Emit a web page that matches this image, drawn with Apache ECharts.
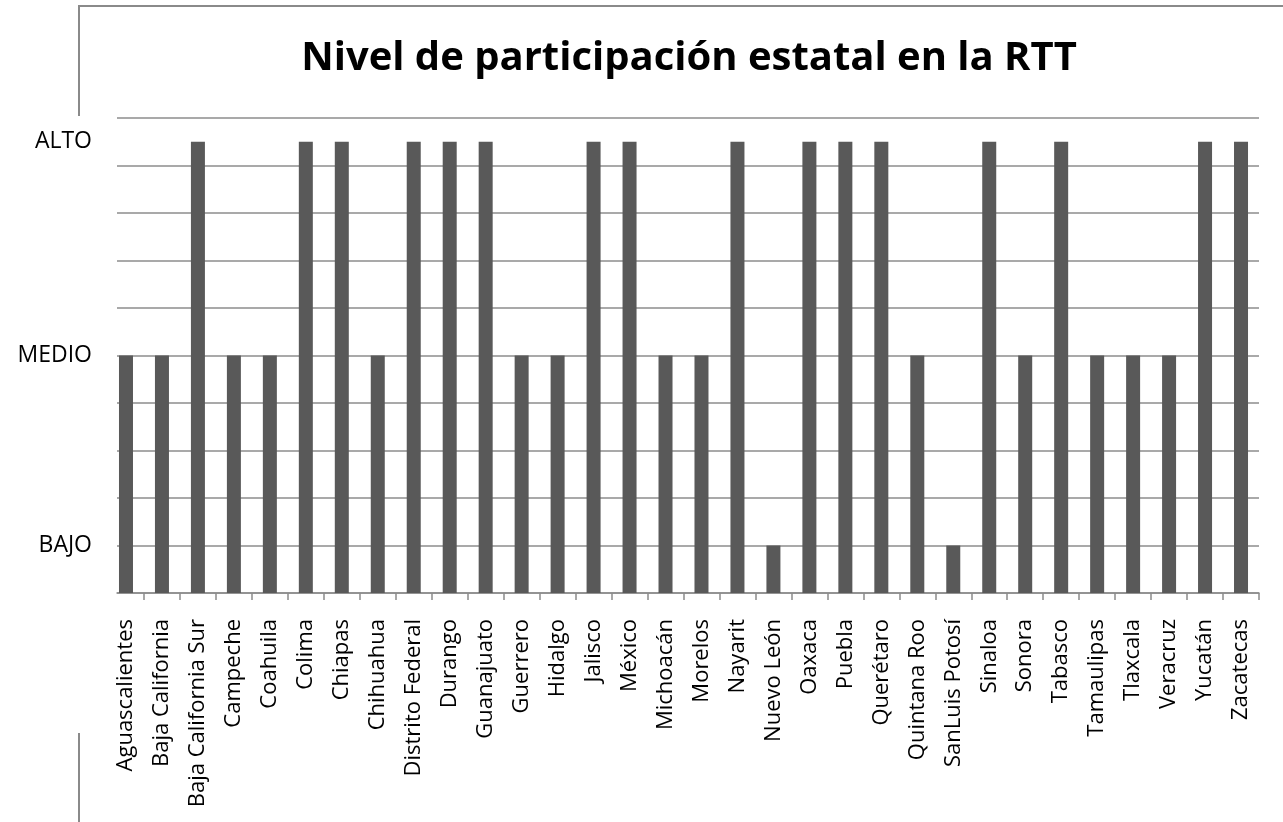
<!DOCTYPE html>
<html>
<head>
<meta charset="utf-8">
<script src="https://cdn.jsdelivr.net/npm/echarts@6/dist/echarts.min.js"></script>
<style>
html,body{margin:0;padding:0;background:#fff;}
#chart{width:1283px;height:822px;}
</style>
</head>
<body>
<div id="chart"></div>
<script>
const titleText = 'Nivel de participación estatal en la RTT';
const states = ['Aguascalientes','Baja California','Baja California Sur','Campeche','Coahuila','Colima','Chiapas','Chihuahua','Distrito Federal','Durango','Guanajuato','Guerrero','Hidalgo','Jalisco','México','Michoacán','Morelos','Nayarit','Nuevo León','Oaxaca','Puebla','Querétaro','Quintana Roo','SanLuis Potosí','Sinaloa','Sonora','Tabasco','Tamaulipas','Tlaxcala','Veracruz','Yucatán','Zacatecas'];
const levels = ['MEDIO','MEDIO','ALTO','MEDIO','MEDIO','ALTO','ALTO','MEDIO','ALTO','ALTO','ALTO','MEDIO','MEDIO','ALTO','ALTO','MEDIO','MEDIO','ALTO','BAJO','ALTO','ALTO','ALTO','MEDIO','BAJO','ALTO','MEDIO','ALTO','MEDIO','MEDIO','MEDIO','ALTO','ALTO'];
const levelNames = ['BAJO','MEDIO','ALTO'];
const levelValues = [1, 5, 9.5];

const values = levels.map(l => levelValues[levelNames.indexOf(l)]);

const chart = echarts.init(document.getElementById('chart'));
const font = 'Open Sans';
const gridTop = 118, gridBottom = 229, gridRight = 24;
chart.setOption({
  backgroundColor: '#fff',
  animation: false,
  title: {
    text: titleText,
    left: 684, top: 34,
    textAlign: 'center',
    textStyle: {fontFamily: font, fontWeight: 'bold', fontSize: 40, color: '#000'}
  },
  graphic: [
    {type: 'polyline', shape: {points: [[79,116],[79,6],[1283,6]]}, style: {stroke: '#8a8a8a', lineWidth: 2, fill: null}},
    {type: 'line', shape: {x1: 79, y1: 733, x2: 79, y2: 822}, style: {stroke: '#8a8a8a', lineWidth: 2}}
  ],
  grid: [
    {left: 108, right: gridRight, top: gridTop, bottom: gridBottom},
    {left: 117, right: gridRight, top: gridTop, bottom: gridBottom}
  ],
  xAxis: [
    {
      type: 'category', gridIndex: 0, data: states,
      axisLine: {show: false},
      axisTick: {show: true, length: 7, lineStyle: {color: '#8c8c8c', width: 1.5}, interval: (i) => i !== 0},
      axisLabel: {interval: 0, rotate: 90, margin: 26, fontFamily: font, fontSize: 22, color: '#000'}
    },
    {
      type: 'value', gridIndex: 1, min: 0, max: 1,
      axisLine: {show: true, lineStyle: {color: '#8c8c8c', width: 1.5}},
      axisTick: {show: false}, axisLabel: {show: false}, splitLine: {show: false}
    }
  ],
  yAxis: [
    {
      type: 'value', gridIndex: 0, min: 0, max: 10, interval: 0.5,
      axisLine: {show: false}, axisTick: {show: false}, splitLine: {show: false},
      axisLabel: {
        margin: 16, fontFamily: font, fontSize: 23, color: '#000',
        formatter: (v) => { const k = levelValues.indexOf(v); return k >= 0 ? levelNames[k] : ''; }
      }
    },
    {
      type: 'value', gridIndex: 1, min: 0, max: 10, interval: 1,
      axisLine: {show: false}, axisTick: {show: false}, axisLabel: {show: false},
      splitLine: {show: true, lineStyle: {color: '#8c8c8c', width: 1.5}}
    }
  ],
  series: [{
    type: 'bar', xAxisIndex: 0, yAxisIndex: 0,
    data: values, barWidth: 14,
    itemStyle: {color: '#595959'}
  }]
});
</script>
</body>
</html>
